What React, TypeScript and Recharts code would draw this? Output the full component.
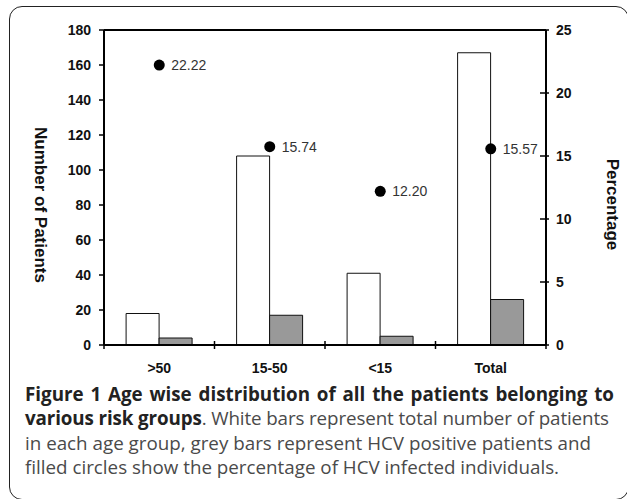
import React from 'react';
import { ComposedChart, Bar, Line, XAxis, YAxis, ReferenceLine } from 'recharts';

const categories = ['>50', '15-50', '<15', 'Total'];
const totalPatients = [18, 108, 41, 167];
const hcvPositive = [4, 17, 5, 26];
const percentInfected = [22.22, 15.74, 12.2, 15.57];
const leftTicks = [0, 20, 40, 60, 80, 100, 120, 140, 160, 180];
const rightTicks = [0, 5, 10, 15, 20, 25];

const data = categories.map((c, i) => ({
  cat: c,
  total: totalPatients[i],
  hcv: hcvPositive[i],
  pct: percentInfected[i],
}));

const AXIS_FONT = '"Liberation Sans", Arial, sans-serif';
const PLOT_LEFT = 104;
const PLOT_RIGHT = 546;
const BAND = (PLOT_RIGHT - PLOT_LEFT) / categories.length;

const XTick = (props: any) => {
  const { x, y, payload, index } = props;
  const left = x - BAND / 2;
  return (
    <g>
      <line x1={left} x2={left} y1={y - 4} y2={y + 4} stroke="#000" strokeWidth={1.5} />
      {index === categories.length - 1 && (
        <line x1={left + BAND} x2={left + BAND} y1={y - 4} y2={y + 4} stroke="#000" strokeWidth={1.5} />
      )}
      <text x={x} y={y + 27.5} textAnchor="middle" fontFamily={AXIS_FONT} fontWeight="bold" fontSize={14} fill="#111">
        {payload.value}
      </text>
    </g>
  );
};

const RightTick = (props: any) => {
  const { x, y, payload } = props;
  return (
    <g>
      <line x1={x - 6} x2={x + 3} y1={y} y2={y} stroke="#000" strokeWidth={1.5} />
      <text x={x + 10} y={y} dy="0.36em" textAnchor="start" fontFamily={AXIS_FONT} fontWeight="bold" fontSize={14} fill="#111">
        {payload.value}
      </text>
    </g>
  );
};

const Dot = (props: any) => {
  const { cx, cy, index } = props;
  if (cx == null || cy == null) return null;
  return <circle key={`d${index}`} cx={cx} cy={cy} r={5.5} fill="#000" />;
};

const DotLabel = (props: any) => {
  const { x, y, value, index } = props;
  return (
    <text key={`l${index}`} x={x + 12} y={y} dy="0.36em" fontFamily={AXIS_FONT} fontSize={14} fill="#333">
      {Number(value).toFixed(2)}
    </text>
  );
};

const LeftTitle = (props: any) => {
  const vb = props.viewBox;
  const cx = vb.x - 4;
  const cy = vb.y + vb.height / 2 + 17.5;
  return (
    <text x={cx} y={cy} transform={`rotate(90, ${cx}, ${cy})`} textAnchor="middle" dominantBaseline="central"
      fontFamily={AXIS_FONT} fontWeight="bold" fontSize={17} fill="#111">
      Number of Patients
    </text>
  );
};

const RightTitle = (props: any) => {
  const vb = props.viewBox;
  const cx = vb.x + 66;
  const cy = vb.y + vb.height / 2 + 17;
  return (
    <text x={cx} y={cy} transform={`rotate(90, ${cx}, ${cy})`} textAnchor="middle" dominantBaseline="central"
      fontFamily={AXIS_FONT} fontWeight="bold" fontSize={17} fill="#111">
      Percentage
    </text>
  );
};

const justified: React.CSSProperties = { textAlign: 'justify', textAlignLast: 'justify' as any, width: 589, whiteSpace: 'normal' };

export default function App() {
  return (
    <div style={{ position: 'absolute', left: 0, top: 0, width: 627, height: 499, overflow: 'hidden', background: '#fff' }}>
      <div
        style={{
          position: 'absolute',
          left: 8.5,
          top: 6,
          width: 620,
          height: 494,
          border: '1.5px solid #222',
          borderRadius: 13,
          boxSizing: 'border-box',
        }}
      />
      <div style={{ position: 'absolute', left: 0, top: 0 }}>
        <ComposedChart
          width={627}
          height={390}
          data={data}
          margin={{ top: 30, right: 21, bottom: 5, left: 44 }}
          barGap={0}
          barCategoryGap="20%"
        >
          <XAxis
            dataKey="cat"
            xAxisId={0}
            interval={0}
            height={40}
            axisLine={{ stroke: '#000', strokeWidth: 2 }}
            tickLine={false}
            tickSize={0}
            tickMargin={0}
            tick={<XTick />}
          />
          <YAxis
            yAxisId="left"
            orientation="left"
            width={60}
            domain={[0, 180]}
            ticks={leftTicks}
            interval={0}
            axisLine={{ stroke: '#000', strokeWidth: 2 }}
            tickLine={{ stroke: '#000', strokeWidth: 1.5 }}
            tickSize={5}
            tickMargin={8}
            tick={{ fontFamily: AXIS_FONT, fontWeight: 'bold', fontSize: 14, fill: '#111' }}
            label={LeftTitle}
          />
          <YAxis
            yAxisId="right"
            orientation="right"
            width={60}
            domain={[0, 25]}
            ticks={rightTicks}
            interval={0}
            axisLine={{ stroke: '#000', strokeWidth: 2 }}
            tickLine={false}
            tickSize={0}
            tickMargin={0}
            tick={<RightTick />}
            label={RightTitle}
          />
          <ReferenceLine yAxisId="left" y={180} stroke="#000" strokeWidth={2} />
          <Bar yAxisId="left" dataKey="total" fill="#ffffff" stroke="#111" strokeWidth={1} isAnimationActive={false} />
          <Bar yAxisId="left" dataKey="hcv" fill="#999999" stroke="#111" strokeWidth={1} isAnimationActive={false} />
          <Line
            yAxisId="right"
            dataKey="pct"
            stroke="none"
            dot={<Dot />}
            activeDot={false}
            label={<DotLabel />}
            isAnimationActive={false}
          />
        </ComposedChart>
      </div>
      <div
        style={{
          position: 'absolute',
          left: 25,
          top: 382,
          width: 595,
          fontFamily: '"Open Sans", "Noto Sans", sans-serif',
          fontSize: 18.8,
          lineHeight: '24.3px',
          color: '#4a4a4a',
          whiteSpace: 'nowrap',
        }}
      >
        <div style={justified}>
          <span style={{ fontWeight: 'bold', color: '#222' }}>Figure 1 Age wise distribution of all the patients belonging to</span>
        </div>
        <div style={{ letterSpacing: '-0.12px' }}>
          <span style={{ fontWeight: 'bold', color: '#222' }}>various risk groups</span>. White bars represent total number of patients
        </div>
        <div>in each age group, grey bars represent HCV positive patients and</div>
        <div>filled circles show the percentage of HCV infected individuals.</div>
      </div>
    </div>
  );
}
